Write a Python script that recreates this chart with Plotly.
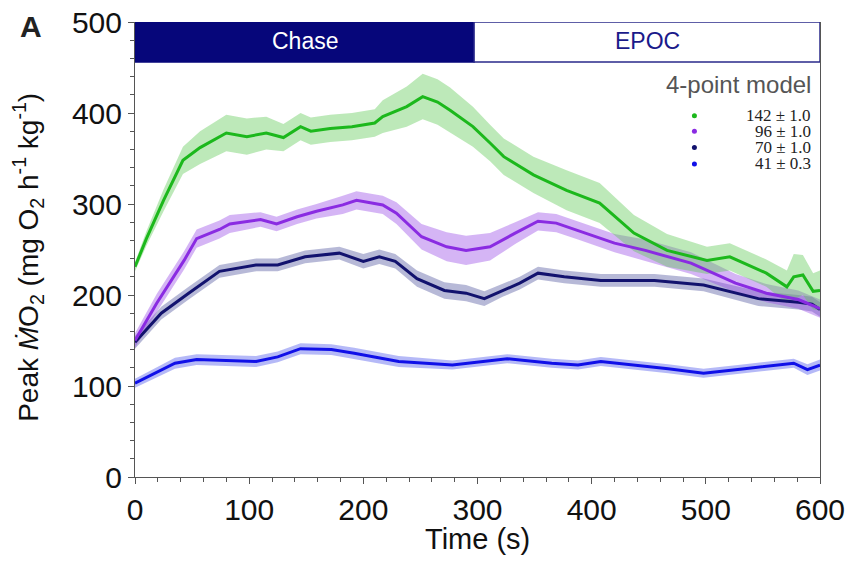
import plotly.graph_objects as go

# ---------------- data ----------------
green_t = [0, 10, 25, 42, 57, 80, 98, 115, 130, 145, 154, 171, 190, 210, 217, 238, 252, 265, 276, 296,
           311, 323, 349, 378, 407, 437, 466, 501, 521, 553, 571, 577, 585, 594, 600]
green_v = [231, 262, 304, 348, 362, 378, 374, 378, 373, 385, 380, 383, 385, 389, 396, 407, 418, 412, 403, 385,
           367, 352, 332, 315, 301, 268, 249, 238, 242, 224, 209, 220, 222, 204, 205]
green_e = [5, 8, 12, 15, 18, 20, 20, 18, 15, 15, 15, 15, 15, 15, 18, 22, 25, 25, 25, 22,
           20, 20, 20, 22, 22, 20, 18, 15, 15, 15, 18, 25, 22, 20, 22]

purple_t = [0, 19, 43, 54, 74, 83, 110, 124, 142, 159, 182, 194, 217, 229, 251, 273, 290, 311, 333, 353,
            369, 388, 420, 447, 487, 526, 553, 581, 600]
purple_v = [150, 191, 238, 262, 272, 278, 283, 278, 286, 292, 299, 304, 299, 290, 264, 253, 249, 253, 268, 281,
            279, 271, 257, 249, 235, 213, 202, 195, 185]
purple_e = [8, 10, 10, 10, 10, 10, 8, 8, 8, 8, 10, 10, 10, 12, 14, 16, 16, 15, 12, 10,
            10, 10, 10, 12, 12, 10, 10, 10, 10]

navy_t = [0, 23, 47, 74, 106, 125, 149, 179, 200, 214, 228, 247, 271, 290, 306, 322, 337, 353, 376, 408,
          455, 498, 546, 581, 593, 600]
navy_v = [148, 180, 202, 226, 233, 233, 242, 246, 237, 242, 237, 218, 205, 202, 196, 205, 213, 224, 220, 216,
          216, 211, 196, 192, 190, 184]
navy_e = [7, 7, 7, 7, 7, 7, 7, 7, 8, 8, 8, 9, 9, 9, 8, 7, 7, 7, 7, 7,
          7, 7, 8, 8, 8, 8]

blue_t = [0, 35, 54, 106, 125, 145, 172, 192, 231, 278, 326, 365, 388, 408, 467, 498, 534, 577, 589, 600]
blue_v = [103, 125, 129, 127, 132, 141, 140, 136, 127, 123, 130, 125, 123, 127, 119, 114, 119, 125, 118, 123]
blue_e = [5, 6, 6, 6, 6, 6, 6, 6, 6, 5, 5, 5, 5, 5, 5, 5, 5, 5, 6, 6]

legend_labels = ["142 \u00b1 1.0", "96 \u00b1 1.0", "70 \u00b1 1.0", "41 \u00b1 0.3"]
phase_labels = ["Chase", "EPOC"]
chase_end = 297

series = [
    (blue_t, blue_v, blue_e, "#1010e8", "rgba(60,70,235,0.38)"),
    (navy_t, navy_v, navy_e, "#12126e", "rgba(50,55,140,0.35)"),
    (purple_t, purple_v, purple_e, "#8a2be2", "rgba(150,70,230,0.40)"),
    (green_t, green_v, green_e, "#1cb81c", "rgba(90,200,80,0.40)"),
]
legend_colors = ["#1cb81c", "#8a2be2", "#12126e", "#1010e8"]

fig = go.Figure()
for t, v, e, lc, fc in series:
    up = [a + b for a, b in zip(v, e)]
    lo = [a - b for a, b in zip(v, e)]
    fig.add_trace(go.Scatter(x=t + t[::-1], y=up + lo[::-1], fill="toself", fillcolor=fc,
                             line=dict(width=0), mode="lines", hoverinfo="skip", showlegend=False))
for t, v, e, lc, fc in series:
    fig.add_trace(go.Scatter(x=t, y=v, mode="lines", line=dict(color=lc, width=3), showlegend=False))

# Chase / EPOC bar
fig.add_shape(type="rect", x0=0, x1=chase_end, y0=456, y1=500, xref="x", yref="y",
              fillcolor="#06067a", line=dict(color="#06067a", width=1.5), layer="above")
fig.add_shape(type="rect", x0=chase_end, x1=600, y0=456, y1=500, xref="x", yref="y",
              fillcolor="white", line=dict(color="#2a2a8a", width=1.5), layer="above")
fig.add_annotation(x=chase_end / 2, y=479, xref="x", yref="y", text=phase_labels[0], showarrow=False,
                   font=dict(family="Arial", size=23, color="white"))
fig.add_annotation(x=(chase_end + 600) / 2, y=479, xref="x", yref="y", text=phase_labels[1], showarrow=False,
                   font=dict(family="Arial", size=23, color="#1a1a8a"))

# legend
fig.add_annotation(x=594, y=431, xref="x", yref="y", text="4-point model", showarrow=False,
                   xanchor="right", font=dict(family="Arial", size=24, color="#555555"))
leg_y = [397, 380, 362, 344]
for lab, col, yy in zip(legend_labels, legend_colors, leg_y):
    fig.add_annotation(x=594, y=yy, xref="x", yref="y", text=lab, showarrow=False, xanchor="right",
                       font=dict(family="Liberation Serif, Times New Roman", size=17, color="#222222"))
fig.add_trace(go.Scatter(x=[490] * 4, y=leg_y, mode="markers",
                         marker=dict(color=legend_colors, size=5), showlegend=False))

fig.add_annotation(x=-0.171, y=1.031, xref="paper", yref="paper", text="<b>A</b>", showarrow=False,
                   xanchor="left", yanchor="top", font=dict(family="Arial", size=30, color="#222222"))

# axis titles
fig.add_annotation(x=0.5, y=-0.137, xref="paper", yref="paper", text="Time (s)", showarrow=False,
                   xanchor="center", yanchor="middle", font=dict(family="Arial", size=29, color="#111111"))
fig.add_annotation(x=-0.156, y=0.482, xref="paper", yref="paper", textangle=-90,
                   text="Peak <i>\u1e40</i>O<sub>2</sub> (mg O<sub>2</sub> h<sup>-1</sup> kg<sup>-1</sup>)",
                   showarrow=False, xanchor="center", yanchor="middle",
                   font=dict(family="Arial", size=28, color="#111111"))

fig.update_layout(
    width=849, height=563,
    margin=dict(l=135, r=29, t=22, b=86),
    plot_bgcolor="white", paper_bgcolor="white",
    font=dict(family="Arial", color="#111111"),
    xaxis=dict(range=[0, 600], tickvals=[0, 100, 200, 300, 400, 500, 600], ticks="outside", ticklen=6,
               tickwidth=1, tickcolor="#555", showline=True, linecolor="#555", linewidth=1, showgrid=False,
               zeroline=False, tickfont=dict(size=30), automargin=False,
               minor=dict(dtick=20, ticks="outside", ticklen=4, tickcolor="#555")),
    yaxis=dict(range=[0, 500], tickvals=[0, 100, 200, 300, 400, 500], ticks="outside", ticklen=6,
               tickwidth=1, tickcolor="#555", showline=True, linecolor="#555", linewidth=1, mirror=True,
               showgrid=False, zeroline=False, tickfont=dict(size=30), automargin=False,
               minor=dict(dtick=20, ticks="outside", ticklen=4, tickcolor="#555")),
)

fig.write_html("out.html", config={"displayModeBar": False},
               post_script="document.body.style.margin='0';document.body.style.padding='0';")
